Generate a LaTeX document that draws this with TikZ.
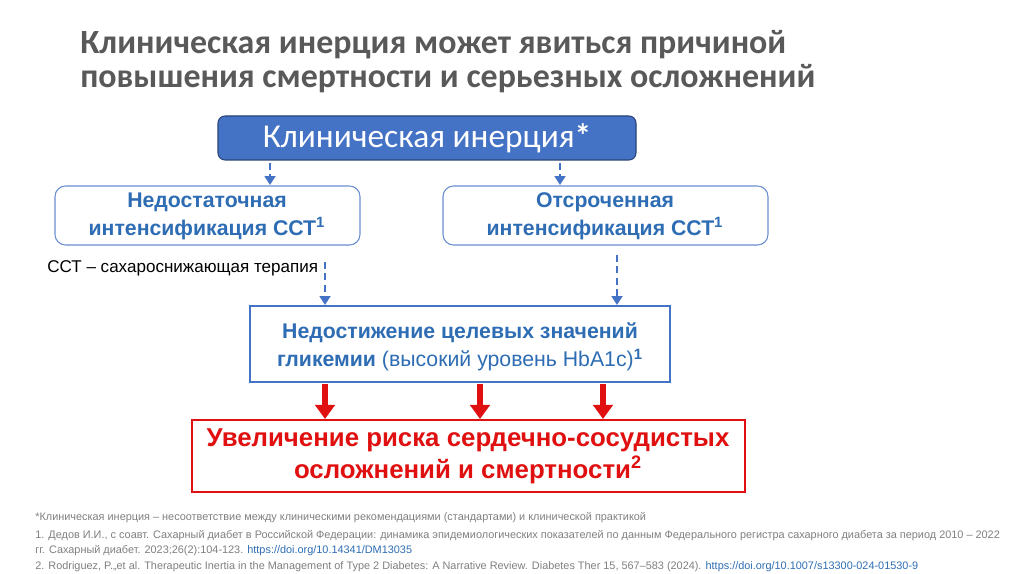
\documentclass[tikz,border=0pt]{standalone}
\usepackage{fontspec}
\setmainfont{Liberation Sans}
\newfontfamily\calib{Carlito}
\usetikzlibrary{arrows.meta}
\definecolor{tblue}{HTML}{4472C4}
\definecolor{dblue}{HTML}{2E6DB4}
\definecolor{tgray}{HTML}{595959}
\definecolor{tred}{HTML}{E01010}
\tikzset{
 softbox/.style={draw=tblue!80,rounded corners=6pt,line width=0.6pt,fill=white},
 dasharr/.style={draw=tblue,line width=1.6pt,dash pattern=on 4pt off 2.5pt,-{Triangle[length=5pt,width=6pt]}},
 redarr/.style={draw=tred,line width=3pt,-{Triangle[length=8pt,width=11pt]}},
 bt/.style={text=dblue,font=\fontsize{12.1}{16}\selectfont\bfseries,align=center},
 fn/.style={text=gray,font=\fontsize{6.2}{7}\selectfont,anchor=west,inner sep=0}
}
\begin{document}
\begin{tikzpicture}[x=0.02cm,y=-0.02cm]
\useasboundingbox[fill=white] (0,0) rectangle (1024,574);
\node[anchor=west,text=tgray,font=\calib\fontsize{19.3}{21}\selectfont\bfseries,inner sep=0] (t1) at (80,45) {Клиническая инерция может явиться причиной};
\node[anchor=west,text=tgray,font=\calib\fontsize{19.3}{21}\selectfont\bfseries,inner sep=0] (t2) at (80,79) {повышения смертности и серьезных осложнений};
\draw[fill=tblue,draw=tblue!60!black,rounded corners=4pt,line width=0.6pt] (218,116) rectangle (636,160);
\node[text=white,font=\calib\fontsize{19}{21}\selectfont] (top) at (427,138) {Клиническая инерция\textbf{*}};
\draw[softbox] (55,186) rectangle (360,245);
\node[bt] (lb) at (207,216) {Недостаточная\\интенсификация ССТ\textsuperscript{1}};
\draw[softbox] (443,186) rectangle (768,245);
\node[bt] (rb) at (605,216) {Отсроченная\\интенсификация ССТ\textsuperscript{1}};
\node[anchor=west,inner sep=0,font=\fontsize{9.7}{11}\selectfont] (note) at (47,268) {ССТ – сахароснижающая терапия};
\draw[draw=tblue,line width=0.7pt] (250,306) rectangle (670,382);
\node[bt] (mid) at (460,347) {Недостижение целевых значений\\гликемии \textmd{(высокий уровень HbA1c)}\textsuperscript{1}};
\draw[draw=tred,line width=1.2pt] (192,420) rectangle (745,492);
\node[text=tred,font=\fontsize{14.7}{18}\selectfont\bfseries,align=center] (res) at (468,456) {Увеличение риска сердечно-сосудистых\\осложнений и смертности\textsuperscript{2}};
\coordinate (a1) at (270,163); \coordinate (a1e) at (270,185);
\coordinate (a2) at (560,163); \coordinate (a2e) at (560,185);
\coordinate (a3) at (325,262); \coordinate (a3e) at (325,305);
\coordinate (a4) at (617,255); \coordinate (a4e) at (617,305);
\draw[dasharr] (a1)--(a1e);
\draw[dasharr] (a2)--(a2e);
\draw[dasharr] (a3)--(a3e);
\draw[dasharr] (a4)--(a4e);
\foreach \x/\n in {325/r1,480/r2,603/r3}{
 \coordinate (\n s) at (\x,384); \coordinate (\n e) at (\x,419);
 \draw[redarr] (\n s)--(\n e);}
\node[fn] (f0) at (35,518) {*Клиническая инерция – несоответствие между клиническими рекомендациями (стандартами) и клинической практикой};
\node[fn] (f1) at (35,536) {1. Дедов И.И., с соавт. Сахарный диабет в Российской Федерации: динамика эпидемиологических показателей по данным Федерального регистра сахарного диабета за период 2010 – 2022};
\node[fn] (f2) at (35,551) {гг. Сахарный диабет. 2023;26(2):104-123. \textcolor{dblue}{https://doi.org/10.14341/DM13035}};
\node[fn] (f3) at (35,567) {2. Rodriguez, P.,,et al. Therapeutic Inertia in the Management of Type 2 Diabetes: A Narrative Review. Diabetes Ther 15, 567–583 (2024). \textcolor{dblue}{https://doi.org/10.1007/s13300-024-01530-9}};
\end{tikzpicture}
\end{document}
